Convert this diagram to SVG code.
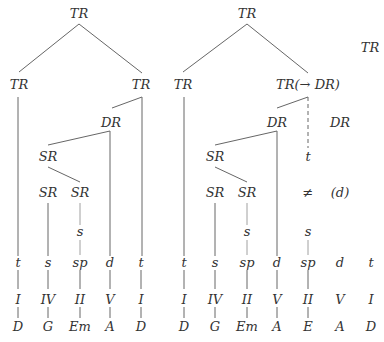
<svg xmlns="http://www.w3.org/2000/svg" width="384" height="342" viewBox="0 0 384 342">
<style>
text{font-family:"DejaVu Serif",serif;font-style:italic;font-size:13px;fill:#333;text-anchor:middle}
.up{font-style:normal}
line{stroke:#666;stroke-width:1}
.thin{stroke:#888;stroke-width:0.8}
.dash{stroke-dasharray:4 3}
</style>
<rect width="384" height="342" fill="#fff"/>
<g id="connectors">
<line x1="79" y1="24" x2="19" y2="72"/>
<line x1="79" y1="24" x2="142" y2="73"/>
<line x1="18" y1="97" x2="18" y2="256"/>
<line x1="142" y1="97" x2="112" y2="108"/>
<line x1="142" y1="97" x2="142" y2="256"/>
<line x1="110" y1="131" x2="48" y2="145"/>
<line x1="110" y1="131" x2="110" y2="256"/>
<line x1="48" y1="167" x2="80" y2="182"/>
<line x1="48" y1="203" x2="48" y2="256"/>
<line class="thin" x1="80" y1="203" x2="80" y2="225"/>
<line class="thin" x1="80" y1="240" x2="80" y2="255"/>
<g class="thin">
<line x1="18" y1="270" x2="18" y2="289"/><line x1="48" y1="270" x2="48" y2="289"/><line x1="80" y1="270" x2="80" y2="289"/><line x1="110" y1="270" x2="110" y2="289"/><line x1="141" y1="270" x2="141" y2="289"/>
<line x1="18" y1="307" x2="18" y2="318"/><line x1="48" y1="307" x2="48" y2="318"/><line x1="80" y1="307" x2="80" y2="318"/><line x1="110" y1="307" x2="110" y2="318"/><line x1="141" y1="307" x2="141" y2="318"/>
</g>
<line x1="247" y1="24" x2="183" y2="72"/>
<line x1="247" y1="24" x2="308" y2="73"/>
<line x1="184" y1="97" x2="184" y2="256"/>
<line x1="308" y1="97" x2="277" y2="108"/>
<line class="dash" x1="308" y1="97" x2="308" y2="148"/>
<line x1="277" y1="131" x2="215" y2="145"/>
<line x1="277" y1="131" x2="277" y2="256"/>
<line x1="215" y1="167" x2="247" y2="182"/>
<line x1="215" y1="203" x2="215" y2="256"/>
<line class="thin" x1="247" y1="203" x2="247" y2="225"/>
<line class="thin" x1="247" y1="240" x2="247" y2="255"/>
<line class="thin" x1="308" y1="240" x2="308" y2="255"/>
<g class="thin">
<line x1="184" y1="270" x2="184" y2="289"/><line x1="215" y1="270" x2="215" y2="289"/><line x1="247" y1="270" x2="247" y2="289"/><line x1="277" y1="270" x2="277" y2="289"/><line x1="308" y1="270" x2="308" y2="289"/>
<line x1="184" y1="307" x2="184" y2="318"/><line x1="215" y1="307" x2="215" y2="318"/><line x1="247" y1="307" x2="247" y2="318"/><line x1="277" y1="307" x2="277" y2="318"/><line x1="308" y1="307" x2="308" y2="318"/>
</g>
</g>
<g id="left-tree">
<g id="L-TR-top"><text x="79" y="18">TR</text></g>
<g id="L-TR1"><text x="19" y="89">TR</text></g>
<g id="L-TR2"><text x="141" y="89">TR</text></g>
<g id="L-DR"><text x="111" y="127">DR</text></g>
<g id="L-SR"><text x="48" y="161">SR</text></g>
<g id="L-SR1"><text x="48" y="197">SR</text></g>
<g id="L-SR2"><text x="80" y="197">SR</text></g>
<g id="L-s"><text x="80" y="236">s</text></g>
<g id="L-row1"><text x="18" y="267">t</text><text x="48" y="267">s</text><text x="80" y="267">sp</text><text x="110" y="267">d</text><text x="141" y="267">t</text></g>
<g id="L-row2"><text x="18" y="304">I</text><text x="48" y="304">IV</text><text x="80" y="304">II</text><text x="110" y="304">V</text><text x="141" y="304">I</text></g>
<g id="L-row3"><text x="18" y="331">D</text><text x="48" y="331">G</text><text x="80" y="331">Em</text><text x="110" y="331">A</text><text x="141" y="331">D</text></g>
</g>
<g id="right-tree">
<g id="R-TR-top"><text x="247" y="18">TR</text></g>
<g id="R-TR1"><text x="183" y="89">TR</text></g>
<g id="R-TR2"><text x="308" y="89">TR(<tspan class="up">→</tspan> DR)</text></g>
<g id="R-TR-far"><text x="370" y="52">TR</text></g>
<g id="R-DR"><text x="277" y="127">DR</text></g>
<g id="R-DR2"><text x="340" y="127">DR</text></g>
<g id="R-t"><text x="308" y="161">t</text></g>
<g id="R-ne"><text class="up" x="308" y="197">≠</text></g>
<g id="R-d"><text x="340" y="197">(d)</text></g>
<g id="R-SR"><text x="215" y="161">SR</text></g>
<g id="R-SR1"><text x="215" y="197">SR</text></g>
<g id="R-SR2"><text x="247" y="197">SR</text></g>
<g id="R-s1"><text x="247" y="236">s</text></g>
<g id="R-s2"><text x="308" y="236">s</text></g>
<g id="R-row1"><text x="184" y="267">t</text><text x="215" y="267">s</text><text x="247" y="267">sp</text><text x="277" y="267">d</text><text x="308" y="267">sp</text><text x="340" y="267">d</text><text x="371" y="267">t</text></g>
<g id="R-row2"><text x="184" y="304">I</text><text x="215" y="304">IV</text><text x="247" y="304">II</text><text x="277" y="304">V</text><text x="308" y="304">II</text><text x="340" y="304">V</text><text x="371" y="304">I</text></g>
<g id="R-row3"><text x="184" y="331">D</text><text x="215" y="331">G</text><text x="247" y="331">Em</text><text x="277" y="331">A</text><text x="308" y="331">E</text><text x="340" y="331">A</text><text x="371" y="331">D</text></g>
</g>
</svg>
